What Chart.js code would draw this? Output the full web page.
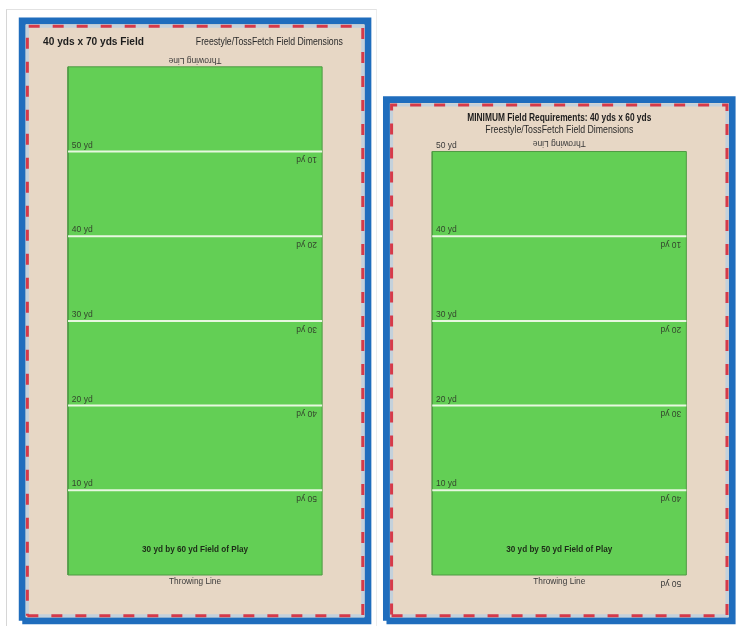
<!DOCTYPE html>
<html>
<head>
<meta charset="utf-8">
<script src="https://cdn.jsdelivr.net/npm/chart.js@4.4.1/dist/chart.umd.min.js"></script>
<style>
  html, body { margin: 0; padding: 0; background: #fff; }
  #wrap { position: relative; width: 738px; height: 626px; overflow: hidden; }
  #frame { position: absolute; left: 6px; top: 9px; width: 369px; height: 640px;
           border-left: 1px solid #d6d6d6; border-top: 1px solid #e2e2e2; border-right: 1px solid #ececec; }
  canvas { position: absolute; left: 0; top: 0; }
</style>
</head>
<body>
<div id="wrap">
  <div id="frame"></div>
  <canvas id="fieldChart" width="738" height="626"></canvas>
</div>
<script>
// field data, all in yards
const fieldWidth = 30;
const fieldLengths = [60, 50];          // left, right field of play
const bufferYds = 5;                     // beige run-off around the field
const panelOffsets = [0, 43];            // x position of each field in yards

const leftYardLines = [10, 20, 30, 40, 50];
const rightYardLines = [10, 20, 30, 40];
const leftMarks = [10, 20, 30, 40, 50];  // labels read from the bottom
const rightMarks = [10, 20, 30, 40, 50];
const leftReverseMarks = [10, 20, 30, 40, 50];   // labels read from the top
const rightReverseMarks = [10, 20, 30, 40, 50];

const mainTitles = ['40 yds x 70 yds Field', 'MINIMUM Field Requirements: 40 yds x 60 yds'];
const subTitle = 'Freestyle/TossFetch Field Dimensions';
const playTitles = ['30 yd by 60 yd Field of Play', '30 yd by 50 yd Field of Play'];
const lineName = 'Throwing Line';

const BLUE = '#1f6dbd';
const BEIGE = '#e7d7c5';
const RED = '#d63a49';
const BAND = '#c3d1dc';
const GREEN = '#63cf55';
const FONT = '"Liberation Sans", Arial, sans-serif';

// the right sheet sits a little taller in the photo
const topExtra = [0, 0.7];

function rect(x0, y0, x1, y1) {
    return [{x: x0, y: y0}, {x: x1, y: y0}, {x: x1, y: y1}, {x: x0, y: y1}, {x: x0, y: y0}];
}

const base = { showLine: true, pointRadius: 0, tension: 0, fill: false, borderJoinStyle: 'miter', borderCapStyle: 'butt' };

const datasets = [];
[0, 1].forEach(p => {
    const ox = panelOffsets[p];
    const L = fieldLengths[p];
    const W = fieldWidth;
    const b = bufferYds;
    const top = L + b + topExtra[p];
    datasets.push({ ...base, data: rect(ox - b - 0.4, -b - 0.4, ox + W + b + 0.4, top + 0.4), borderColor: BLUE, borderWidth: 7, order: 10 });
    datasets.push({ ...base, data: rect(ox - b, -b, ox + W + b, top), backgroundColor: BEIGE, fill: 'shape', borderWidth: 0, borderColor: BEIGE, order: 9 });
    datasets.push({ ...base, data: rect(ox - b + 0.2, -b + 0.2, ox + W + b - 0.2, top - 0.2), borderColor: BAND, borderWidth: 3, order: 8 });
    datasets.push({ ...base, data: rect(ox - b + 0.2, -b + 0.2, ox + W + b - 0.2, top - 0.2), borderColor: RED, borderWidth: 3, borderDash: [11, 13], order: 7 });
    datasets.push({ ...base, data: rect(ox, 0, ox + W, L), backgroundColor: GREEN, fill: 'shape', borderColor: '#4f9a44', borderWidth: 1, order: 6 });
    const lines = p === 0 ? leftYardLines : rightYardLines;
    lines.forEach(v => {
        datasets.push({ ...base, data: [{x: ox, y: v}, {x: ox + W, y: v}], borderColor: 'rgba(238,250,232,0.95)', borderWidth: 2, order: 5 });
    });
});

function drawText(ctx, s, x, y, o) {
    ctx.save();
    ctx.font = o.font;
    ctx.fillStyle = o.color || '#222';
    ctx.textAlign = o.align || 'center';
    ctx.textBaseline = 'middle';
    ctx.translate(x, y);
    if (o.flip) ctx.rotate(Math.PI);
    if (o.maxW) ctx.fillText(s, 0, 0, o.maxW); else ctx.fillText(s, 0, 0);
    ctx.restore();
}

const fieldText = {
    id: 'fieldText',
    afterDatasetsDraw(chart) {
        const ctx = chart.ctx;
        const xs = chart.scales.x, ys = chart.scales.y;
        const X = v => xs.getPixelForValue(v);
        const Y = v => ys.getPixelForValue(v);
        [0, 1].forEach(p => {
            const ox = panelOffsets[p];
            const L = fieldLengths[p];
            const W = fieldWidth;
            const marks = p === 0 ? leftMarks : rightMarks;
            const rev = p === 0 ? leftReverseMarks : rightReverseMarks;
            const label = { font: '8.5px ' + FONT, color: '#34452d', maxW: 21 };

            if (p === 0) {
                drawText(ctx, mainTitles[0], X(ox - 2.95), Y(L + 2.95), { font: 'bold 11px ' + FONT, color: '#1c1c1c', align: 'left', maxW: 101 });
                drawText(ctx, subTitle, X(ox + W + 2.45), Y(L + 2.95), { font: '10px ' + FONT, color: '#2a2a2a', align: 'right', maxW: 147 });
                drawText(ctx, lineName, X(ox + W / 2), Y(L + 0.75), { font: '8.5px ' + FONT, color: '#3a3a3a', flip: true, maxW: 53 });
            } else {
                drawText(ctx, mainTitles[1], X(ox + W / 2), Y(L + 3.95), { font: 'bold 10.5px ' + FONT, color: '#1c1c1c', maxW: 184 });
                drawText(ctx, subTitle, X(ox + W / 2), Y(L + 2.5), { font: '10px ' + FONT, color: '#2a2a2a', maxW: 148 });
                drawText(ctx, lineName, X(ox + W / 2), Y(L + 0.95), { font: '8.5px ' + FONT, color: '#3a3a3a', flip: true, maxW: 53 });
            }
            drawText(ctx, playTitles[p], X(ox + W / 2), Y(3.0), { font: 'bold 9.5px ' + FONT, color: '#1d2a18', maxW: 106 });
            drawText(ctx, lineName, X(ox + W / 2), Y(-0.8), { font: '9.5px ' + FONT, color: '#3a3a3a', maxW: 52 });

            marks.forEach(v => {
                drawText(ctx, v + ' yd', X(ox + 0.45), Y(v + 0.75), { ...label, align: 'left', color: v === L ? '#3a3a3a' : label.color });
            });
            rev.forEach(v => {
                const at = L - v;
                drawText(ctx, v + ' yd', X(ox + W - 0.6), Y(at - 0.95), { ...label, align: 'left', flip: true, color: at <= 0 ? '#3a3a3a' : label.color });
            });
        });
    }
};

new Chart(document.getElementById('fieldChart'), {
    type: 'scatter',
    data: { datasets },
    options: {
        responsive: false,
        maintainAspectRatio: false,
        animation: false,
        events: [],
        layout: { padding: 0 },
        plugins: { legend: { display: false }, tooltip: { enabled: false } },
        scales: {
            x: { type: 'linear', display: false, min: -8.03, max: 79.1 },
            y: { type: 'linear', display: false, min: -6.02, max: 67.89 }
        }
    },
    plugins: [fieldText]
});
</script>
</body>
</html>
